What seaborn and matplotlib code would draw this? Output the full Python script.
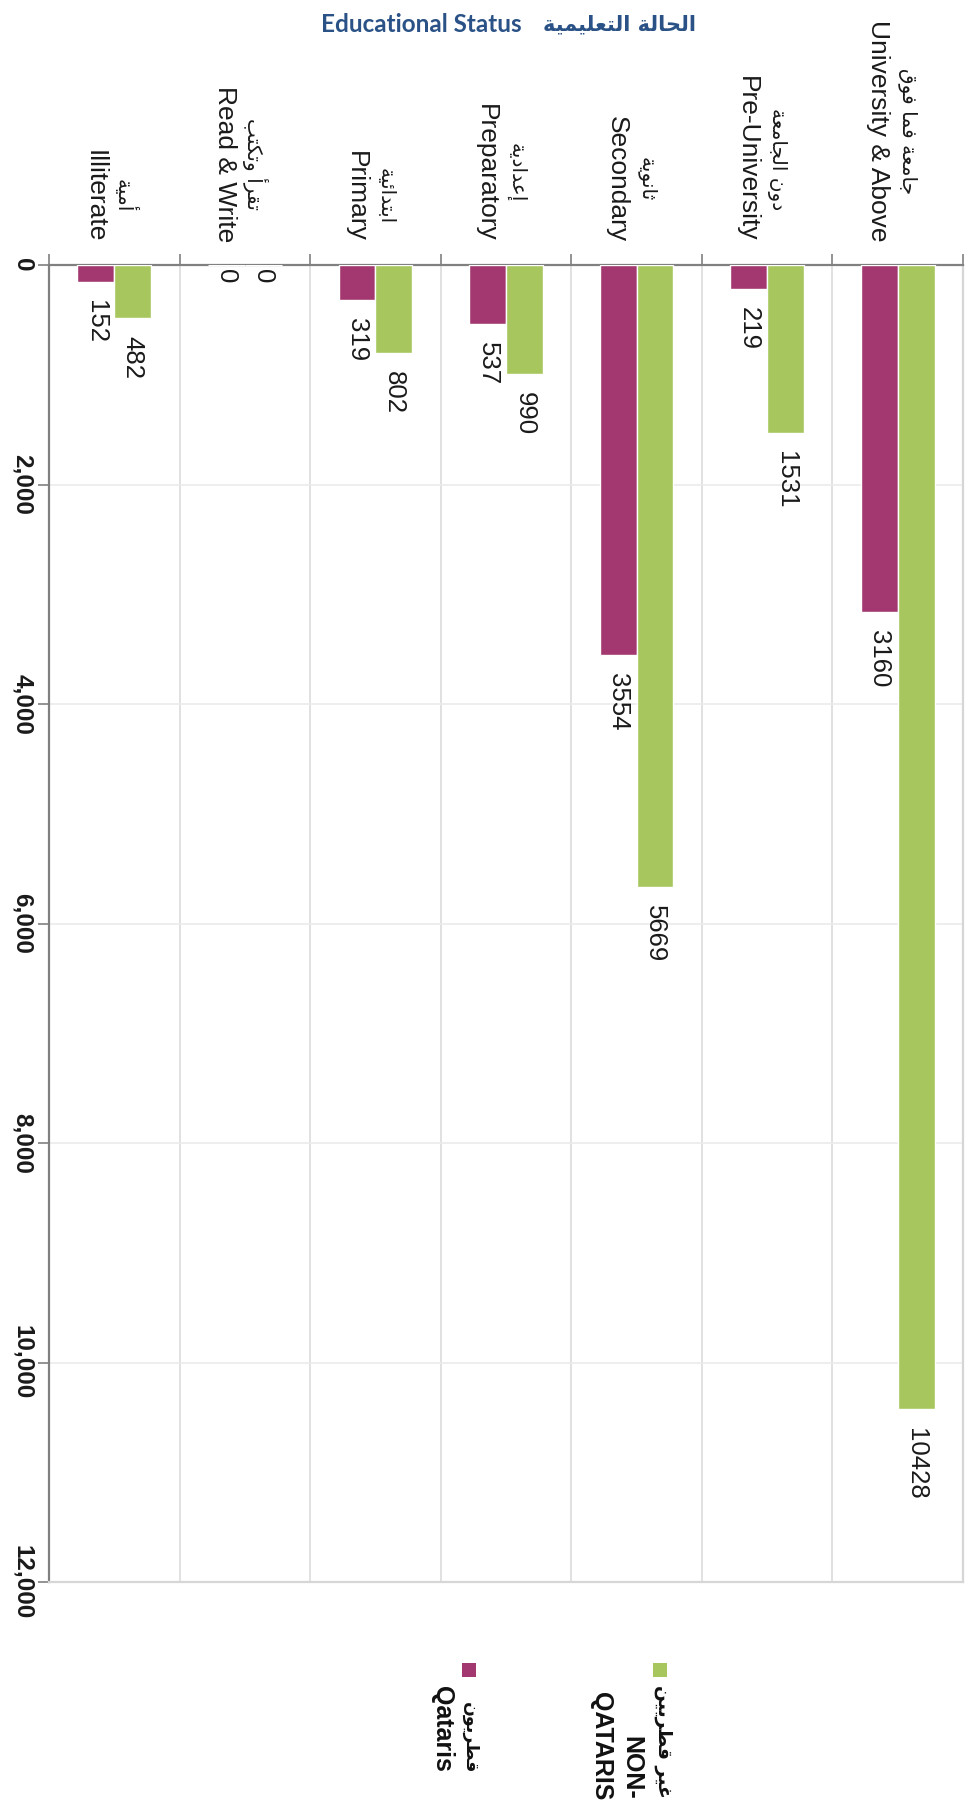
import numpy as np
import pandas as pd
import matplotlib
matplotlib.use("Agg")
import matplotlib.pyplot as plt
import matplotlib.transforms as mtransforms
from matplotlib.patches import Rectangle
import seaborn as sns

# ---------------- data ----------------
categories_en = ["Illiterate", "Read & Write", "Primary", "Preparatory",
                 "Secondary", "Pre-University", "University & Above"]
categories_ar = ["أمية", "تقرأ وتكتب", "ابتدائية", "إعدادية",
                 "ثانوية", "دون الجامعة", "جامعة فما فوق"]
qataris = [152, 0, 319, 537, 3554, 219, 3160]
non_qataris = [482, 0, 802, 990, 5669, 1531, 10428]
series_en = ["Qataris", "NON-\nQATARIS"]
series_ar = ["قطريون", "غير قطريين"]
yticks = [0, 2000, 4000, 6000, 8000, 10000, 12000]
ytick_labels = ["0", "2,000", "4,000", "6,000", "8,000", "10,000", "12,000"]
title_en = "Educational Status"
title_ar = "الحالة التعليمية"

MAGENTA = "#A2386F"
GREEN = "#A7C75E"
TITLE_C = "#2A5286"

# ------------- minimal Arabic shaping (presentation forms, visual order) -------------
FORMS = {
    "ا": (0xFE8D, 0xFE8E, None, None), "أ": (0xFE83, 0xFE84, None, None),
    "إ": (0xFE87, 0xFE88, None, None), "آ": (0xFE81, 0xFE82, None, None),
    "ئ": (0xFE89, 0xFE8A, 0xFE8B, 0xFE8C), "ب": (0xFE8F, 0xFE90, 0xFE91, 0xFE92),
    "ة": (0xFE93, 0xFE94, None, None), "ت": (0xFE95, 0xFE96, 0xFE97, 0xFE98),
    "ث": (0xFE99, 0xFE9A, 0xFE9B, 0xFE9C), "ج": (0xFE9D, 0xFE9E, 0xFE9F, 0xFEA0),
    "ح": (0xFEA1, 0xFEA2, 0xFEA3, 0xFEA4), "خ": (0xFEA5, 0xFEA6, 0xFEA7, 0xFEA8),
    "د": (0xFEA9, 0xFEAA, None, None), "ذ": (0xFEAB, 0xFEAC, None, None),
    "ر": (0xFEAD, 0xFEAE, None, None), "ز": (0xFEAF, 0xFEB0, None, None),
    "س": (0xFEB1, 0xFEB2, 0xFEB3, 0xFEB4), "ش": (0xFEB5, 0xFEB6, 0xFEB7, 0xFEB8),
    "ص": (0xFEB9, 0xFEBA, 0xFEBB, 0xFEBC), "ض": (0xFEBD, 0xFEBE, 0xFEBF, 0xFEC0),
    "ط": (0xFEC1, 0xFEC2, 0xFEC3, 0xFEC4), "ظ": (0xFEC5, 0xFEC6, 0xFEC7, 0xFEC8),
    "ع": (0xFEC9, 0xFECA, 0xFECB, 0xFECC), "غ": (0xFECD, 0xFECE, 0xFECF, 0xFED0),
    "ف": (0xFED1, 0xFED2, 0xFED3, 0xFED4), "ق": (0xFED5, 0xFED6, 0xFED7, 0xFED8),
    "ك": (0xFED9, 0xFEDA, 0xFEDB, 0xFEDC), "ل": (0xFEDD, 0xFEDE, 0xFEDF, 0xFEE0),
    "م": (0xFEE1, 0xFEE2, 0xFEE3, 0xFEE4), "ن": (0xFEE5, 0xFEE6, 0xFEE7, 0xFEE8),
    "ه": (0xFEE9, 0xFEEA, 0xFEEB, 0xFEEC), "و": (0xFEED, 0xFEEE, None, None),
    "ى": (0xFEEF, 0xFEF0, None, None), "ي": (0xFEF1, 0xFEF2, 0xFEF3, 0xFEF4),
}


def shape_ar(s):
    out = []
    n = len(s)
    for i, c in enumerate(s):
        if c not in FORMS:
            out.append(c)
            continue
        prev = s[i - 1] if i > 0 else None
        nxt = s[i + 1] if i + 1 < n else None
        join_prev = prev in FORMS and FORMS[prev][2] is not None
        join_next = FORMS[c][2] is not None and nxt in FORMS
        iso, fin, ini, med = FORMS[c]
        if join_prev and join_next:
            f = med
        elif join_prev:
            f = fin
        elif join_next:
            f = ini
        else:
            f = iso
        out.append(chr(f))
    return "".join(reversed(out))


# ---------------- figure ----------------
sns.set_theme(style="white")
plt.rcParams["font.family"] = ["Liberation Sans", "DejaVu Sans"]

W, H = 965, 1820
fig = plt.figure(figsize=(W / 100, H / 100), dpi=100)
ax_left, ax_right, ax_top, ax_bot = 49, 963, 265, 1582
ax = fig.add_axes([ax_left / W, 1 - ax_bot / H, (ax_right - ax_left) / W, (ax_bot - ax_top) / H])

df = pd.DataFrame({
    "category": categories_en * 2,
    "group": ["Qataris"] * len(categories_en) + ["Non-Qataris"] * len(categories_en),
    "value": qataris + non_qataris,
})
sns.barplot(data=df, x="category", y="value", hue="group",
            order=categories_en, hue_order=["Qataris", "Non-Qataris"],
            palette=[MAGENTA, GREEN], width=0.565, saturation=1,
            legend=False, ax=ax, zorder=3)

ax.set_ylim(12000, 0)
ax.set_xlim(-0.5, len(categories_en) - 0.5)
ax.set_xlabel("")
ax.set_ylabel("")

# value labels
for cont, vals in zip(ax.containers, [qataris, non_qataris]):
    ax.bar_label(cont, labels=[str(v) for v in vals], padding=13, rotation=270,
                 fontsize=18.5, color="#1a1a1a", family=["Liberation Sans", "DejaVu Sans"])

# y axis
ax.set_yticks(yticks)
ax.set_yticklabels(ytick_labels, rotation=270, fontsize=17.5, fontweight="bold",
                   va="center", color="#1a1a1a")
ax.tick_params(axis="y", left=True, length=8, width=1.2, color="#808080", pad=3)

# x axis: ticks on top at category boundaries, no labels
ax.xaxis.tick_top()
ax.set_xticks([])
ax.set_xticks(np.arange(-0.5, len(categories_en), 1.0), minor=True)
ax.tick_params(axis="x", which="minor", top=True, length=8, width=1.2, color="#808080")
ax.tick_params(axis="x", which="major", top=False, bottom=False, labeltop=False, labelbottom=False)

ax.grid(False)
ax.grid(True, which="minor", axis="x", color="#DCDCDC", lw=1.2, zorder=0)
ax.grid(True, which="major", axis="y", color="#EBEBEB", lw=1.2, zorder=0)

for side in ["left", "top"]:
    ax.spines[side].set_color("#808080")
    ax.spines[side].set_linewidth(1.6)
for side in ["right", "bottom"]:
    ax.spines[side].set_color("#D6D6D6")
    ax.spines[side].set_linewidth(1.6)

# category labels
fig.canvas.draw()
trans = mtransforms.blended_transform_factory(ax.transData, fig.transFigure)
px_per_cat = (ax_right - ax_left) / len(categories_en)
label_end = 1 - 242 / H
renderer = fig.canvas.get_renderer()
for i, (en, ar) in enumerate(zip(categories_en, categories_ar)):
    t = ax.text(i - 20 / px_per_cat, label_end, en, transform=trans, rotation=270,
                ha="center", va="bottom", fontsize=19, color="#1a1a1a")
    bb = t.get_window_extent(renderer=renderer)
    yc = (bb.y0 + bb.y1) / 2 / fig.bbox.height
    ax.text(i + 10 / px_per_cat, yc, shape_ar(ar), transform=trans, rotation=270,
            ha="center", va="center", fontsize=14.5, color="#1a1a1a",
            family=["DejaVu Sans"])

# title
fig.text(522 / W, 1 - 25 / H, title_en, ha="right", va="center", fontsize=17.5,
         fontweight="bold", color=TITLE_C, family=["Lato", "DejaVu Sans"])
fig.text(543 / W, 1 - 24 / H, shape_ar(title_ar), ha="left", va="center", fontsize=15,
         fontweight="bold", color=TITLE_C, family=["DejaVu Sans"])

# legend (drawn manually, rotated like the chart)
sq = 14
for xc, col in [(469, MAGENTA), (660, GREEN)]:
    fig.add_artist(Rectangle(((xc - sq / 2) / W, 1 - (1670 + sq / 2) / H), sq / W, sq / H,
                             transform=fig.transFigure, facecolor=col, edgecolor="none"))

# Qataris
fig.text(470 / W, 1 - 1773 / H, shape_ar(series_ar[0]), rotation=270, ha="center", va="bottom",
         fontsize=12.5, fontweight="bold", color="#111111", family=["DejaVu Sans"])
fig.text(442 / W, 1 - 1772 / H, series_en[0], rotation=270, ha="center", va="bottom",
         fontsize=18, fontweight="bold", color="#111111")
# Non-Qataris
fig.text(663 / W, 1 - 1798 / H, shape_ar(series_ar[1]), rotation=270, ha="center", va="bottom",
         fontsize=13.5, fontweight="bold", color="#111111", family=["DejaVu Sans"])
nq1, nq2 = series_en[1].split("\n")
fig.text(631 / W, 1 - 1800 / H, nq1, rotation=270, ha="center", va="bottom",
         fontsize=18, fontweight="bold", color="#111111")
fig.text(601 / W, 1 - 1800 / H, nq2, rotation=270, ha="center", va="bottom",
         fontsize=18, fontweight="bold", color="#111111")

fig.savefig("out.png", dpi=100, facecolor="white")
